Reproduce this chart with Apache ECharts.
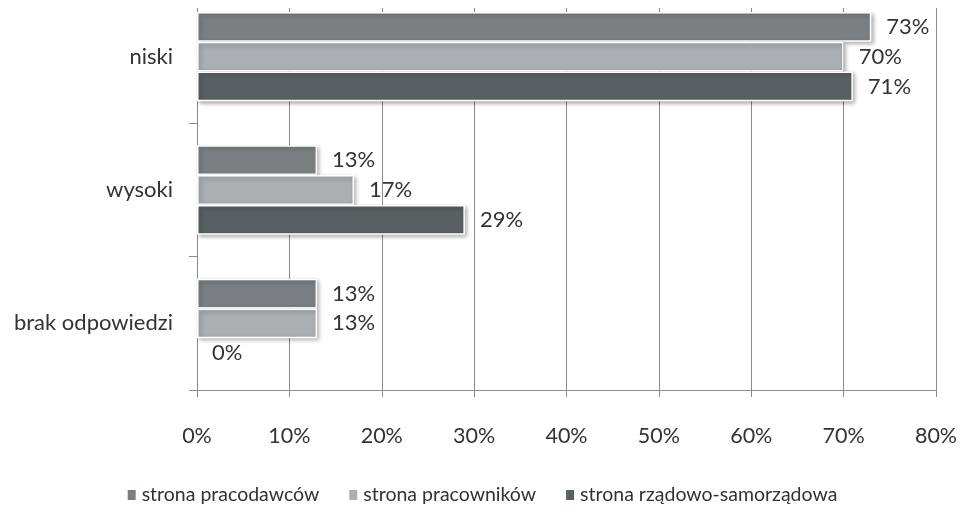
<!DOCTYPE html>
<html><head><meta charset="utf-8">
<script src="https://cdn.jsdelivr.net/npm/echarts@6/dist/echarts.min.js"></script>
<style>html,body{margin:0;padding:0;background:#fff}#c{width:963px;height:514px}</style>
</head><body><div id="c"></div>
<script>
const categories = ['niski', 'wysoki', 'brak odpowiedzi'];
const seriesNames = ['strona pracodawców', 'strona pracowników', 'strona rządowo-samorządowa'];
const pracodawcow = [73, 13, 13];
const pracownikow = [70, 17, 13];
const rzadowo = [71, 29, 0];
const xTicks = [0, 10, 20, 30, 40, 50, 60, 70, 80];
const colors = ['#7a8082', '#acafb1', '#596062'];
const FONT = 'Lato';
const chart = echarts.init(document.getElementById('c'));
const values = [pracodawcow, pracownikow, rzadowo];
chart.setOption({
  animation: false,
  textStyle: {fontFamily: FONT},
  grid: {left: 197, right: 27, top: -10, bottom: 124, outerBoundsMode: 'none', containLabel: false},
  legend: {
    bottom: 4, left: 'center', itemWidth: 10, itemHeight: 12, itemGap: 28,
    icon: 'rect',
    textStyle: {fontFamily: FONT, fontSize: 19.5, color: '#333'},
    data: seriesNames
  },
  xAxis: {
    type: 'value', min: xTicks[0], max: xTicks[xTicks.length - 1], interval: 10,
    axisLine: {show: true, lineStyle: {color: '#8a8a8a'}},
    axisTick: {show: true, length: 7, lineStyle: {color: '#8a8a8a'}},
    splitLine: {show: true, lineStyle: {color: '#8a8a8a'}},
    axisLabel: {formatter: '{value}%', fontSize: 21.5, color: '#333', margin: 35, fontFamily: FONT}
  },
  yAxis: {
    type: 'category', data: categories, inverse: true,
    axisLine: {show: true, lineStyle: {color: '#8a8a8a'}},
    axisTick: {show: true, length: 8, lineStyle: {color: '#8a8a8a'}},
    axisLabel: {fontSize: 22, color: '#333', margin: 24, fontFamily: FONT}
  },
  graphic: [{type: 'rect', shape: {x: 150, y: 0, width: 813, height: 8}, style: {fill: '#fff'}, z: 100, silent: true}],
  series: seriesNames.map((n, i) => ({
    name: n, type: 'bar',
    data: values[i].map(v => v === 0 ? {value: v, itemStyle: {borderWidth: 0, shadowBlur: 0, shadowOffsetX: 0, shadowOffsetY: 0}} : v),
    barGap: '0%', barCategoryGap: '33%',
    itemStyle: {color: colors[i], borderColor: '#fff', borderWidth: 1.5,
      shadowBlur: 4, shadowOffsetX: 2, shadowOffsetY: 2, shadowColor: 'rgba(0,0,0,0.3)'},
    label: {show: true, position: 'right', distance: 15, formatter: '{c}%', fontSize: 22, color: '#333', fontFamily: FONT}
  }))
});
</script></body></html>
